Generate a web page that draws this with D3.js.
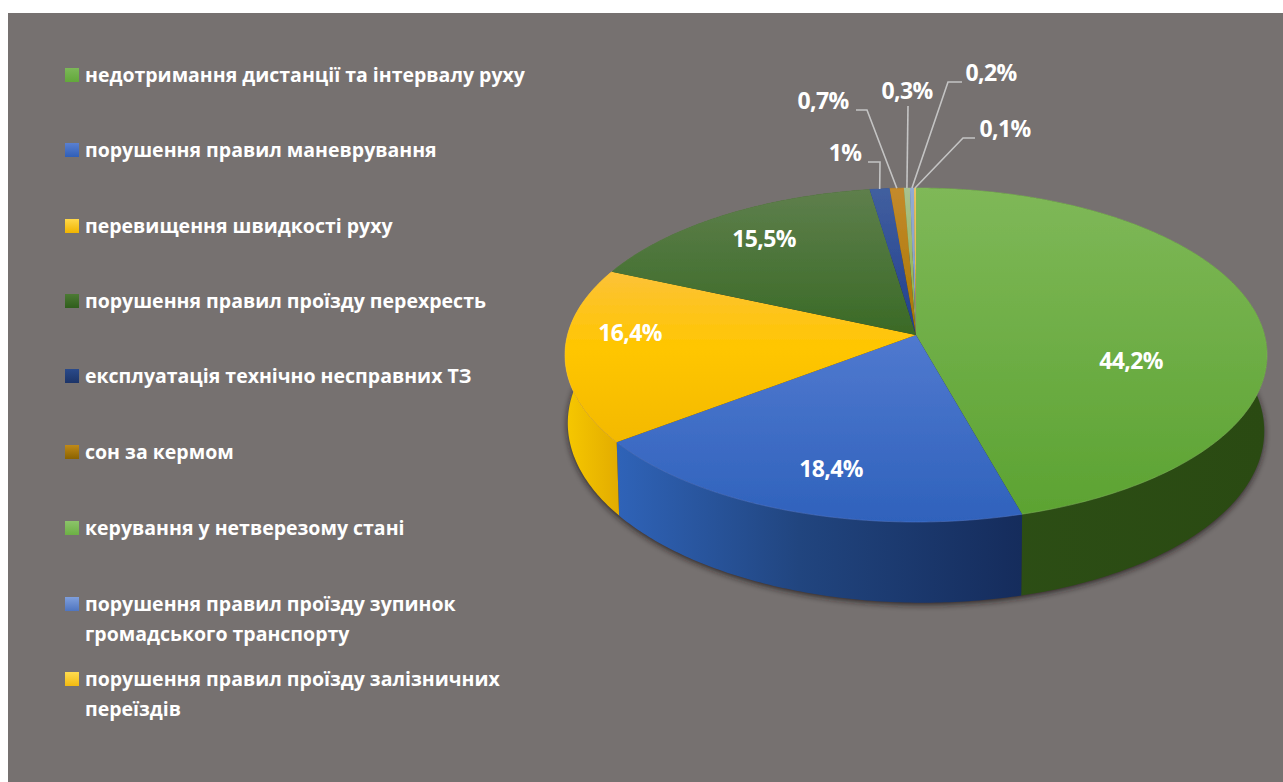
<!DOCTYPE html>
<html><head><meta charset="utf-8">
<script src="https://cdn.jsdelivr.net/npm/d3@7"></script>
<style>html,body{margin:0;padding:0;background:#fff}svg{display:block}</style></head>
<body><svg id="c" width="1283" height="782"></svg>
<script>
const categories = ["недотримання дистанції та інтервалу руху","порушення правил маневрування","перевищення швидкості руху","порушення правил проїзду перехресть","експлуатація технічно несправних ТЗ","сон за кермом","керування у нетверезому стані","порушення правил проїзду зупинок\nгромадського транспорту","порушення правил проїзду залізничних\nпереїздів"];
const values = [44.2,18.4,16.4,15.5,1,0.7,0.3,0.2,0.1];
const valueLabels = ["44,2%","18,4%","16,4%","15,5%","1%","0,7%","0,3%","0,2%","0,1%"];
const topTop  = ["#7fb858","#5079cf","#fcc238","#5e7f4c","#415f9f","#c48a2c","#a8c290","#92abd2","#e9c266"];
const topBot  = ["#5ca332","#2f62bc","#f3b900","#3a6a26","#213f8e","#a87600","#8fae3a","#7f9cc8","#e0b040"];
const sideA   = ["#2d4f16","#2f63b8","#f7c800","#2d4f16","#1f3d7a","#8a5c00","#6a8a40","#4f6fa8","#c09020"];
const sideB   = ["#2a4a12","#152c5c","#e2ac00","#2a4a12","#1f3d7a","#8a5c00","#6a8a40","#4f6fa8","#c09020"];
const swatchTop = ["#7cb858","#5a80d0","#ffd84a","#4c7a34","#2a4a8a","#c08a18","#8cc46a","#7f9fdc","#ffdc50"];
const swatchBot = ["#62a83a","#2f5fb8","#f0b400","#2f5e1c","#1c3468","#8a6200","#6cb044","#4f75c0","#f2ba10"];

const cfg = {cx:916, cy:335, R:348.5, A:164.6, k:0.1198, H:71, lean:4, shrink:0.992};
const legendY = [75,150,226,301,376,452,528,604,679];
const labelPos = [[1131,361],[831,469],[630,333],[764,239],[845,153],[823,101],[907,91],[991,73],[1005,129]];
const leaderElbows = [null,null,null,null,[[880,162],[868,162]],[[867,110],[856,110]],[[908,106]],[[948,82],[962,82]],[[963,138],[975,138]]];

const svg = d3.select("#c");
const defs = svg.append("defs");
defs.append("filter").attr("id","soft").attr("x","-10%").attr("y","-10%").attr("width","120%").attr("height","120%")
  .append("feGaussianBlur").attr("stdDeviation",3.2);
defs.append("filter").attr("id","tiny").append("feGaussianBlur").attr("stdDeviation",0.35);

svg.append("rect").attr("x",8).attr("y",13).attr("width",1275).attr("height",769).attr("fill","#767170");

const pie = d3.pie().sort(null).value(d=>d)(values);
function topPt(a){ const x=Math.sin(a), y=-Math.cos(a), w=1-cfg.k*y;
  return [cfg.cx+cfg.R*x/w, cfg.cy+cfg.A*y/w]; }
function botPt(a){ const x=Math.sin(a), y=-Math.cos(a), w=1-cfg.k*y, p=topPt(a);
  return [cfg.cx+(p[0]-cfg.cx)*cfg.shrink, p[1]+cfg.H/w+cfg.lean*x]; }
const line = d3.line();
function arcAngles(s){ const n=Math.max(2,Math.ceil((s.endAngle-s.startAngle)*80));
  return d3.range(n+1).map(i=>s.startAngle+(s.endAngle-s.startAngle)*i/n); }

// shadow
const all = d3.range(0,361,2).map(d=>d*Math.PI/180);
svg.append("path").attr("d",line(all.map(botPt))+"Z").attr("fill","#1d1418")
  .attr("opacity",0.8).attr("filter","url(#soft)").attr("transform","translate(0,2)");

// sides
pie.forEach((s,i)=>{
  const as=arcAngles(s), pts=as.map(topPt), bts=as.map(botPt);
  const xs=pts.concat(bts).map(p=>p[0]);
  const id="sg"+i;
  const g=defs.append("linearGradient").attr("id",id).attr("gradientUnits","userSpaceOnUse")
    .attr("x1",d3.min(xs)).attr("x2",d3.max(xs)).attr("y1",0).attr("y2",0);
  g.append("stop").attr("offset",0).attr("stop-color",sideA[i]);
  if(i===1) g.append("stop").attr("offset",0.45).attr("stop-color","#21457f");
  g.append("stop").attr("offset",1).attr("stop-color",sideB[i]);
  svg.append("path").attr("d",line(pts.concat(bts.reverse()))+"Z").attr("fill",`url(#${id})`);
});
// top faces
pie.forEach((s,i)=>{
  const as=arcAngles(s), pts=as.map(topPt);
  const ys=pts.map(p=>p[1]).concat([cfg.cy]);
  const id="tg"+i;
  const g=defs.append("linearGradient").attr("id",id).attr("gradientUnits","userSpaceOnUse")
    .attr("x1",0).attr("x2",0).attr("y1",d3.min(ys)).attr("y2",d3.max(ys));
  g.append("stop").attr("offset",0).attr("stop-color",topTop[i]);
  if(i===2) g.append("stop").attr("offset",0.45).attr("stop-color","#ffc600");
  g.append("stop").attr("offset",1).attr("stop-color",topBot[i]);
  svg.append("path").attr("d",line([[cfg.cx,cfg.cy]].concat(pts))+"Z").attr("fill",`url(#${id})`).attr("filter","url(#tiny)");
  svg.append("path").attr("d",line(pts)).attr("fill","none").attr("stroke",topTop[i]).attr("stroke-width",1).attr("stroke-opacity",0.55);
});
// leaders
pie.forEach((s,i)=>{
  if(!leaderElbows[i]) return;
  const start=topPt((s.startAngle+s.endAngle)/2);
  svg.append("path").attr("d",line([start].concat(leaderElbows[i])))
    .attr("fill","none").attr("stroke","#c4c4c4").attr("stroke-width",1.6);
});
// value labels
const font='"Open Sans", "Noto Sans", sans-serif';
svg.selectAll("text.v").data(valueLabels).join("text").attr("class","v")
  .attr("x",(d,i)=>labelPos[i][0]).attr("y",(d,i)=>labelPos[i][1]+8)
  .attr("text-anchor","middle").attr("fill","#fff").attr("font-family",font)
  .attr("font-weight",700).attr("font-size",23).attr("letter-spacing",-0.6).text(d=>d);
// legend
categories.forEach((c,i)=>{
  const gid="lg"+i;
  const g=defs.append("linearGradient").attr("id",gid).attr("x1",0).attr("x2",0).attr("y1",0).attr("y2",1);
  g.append("stop").attr("offset",0).attr("stop-color",swatchTop[i]);
  g.append("stop").attr("offset",1).attr("stop-color",swatchBot[i]);
  svg.append("rect").attr("x",65).attr("y",legendY[i]-7).attr("width",14).attr("height",14).attr("fill",`url(#${gid})`);
  c.split("\n").forEach((t,j)=>{
    svg.append("text").attr("class","lg").attr("x",85).attr("y",legendY[i]+6.5+j*30)
      .attr("fill","#fff").attr("font-family",font).attr("font-weight",700)
      .attr("font-size",19.5).text(t);
  });
});
</script></body></html>
